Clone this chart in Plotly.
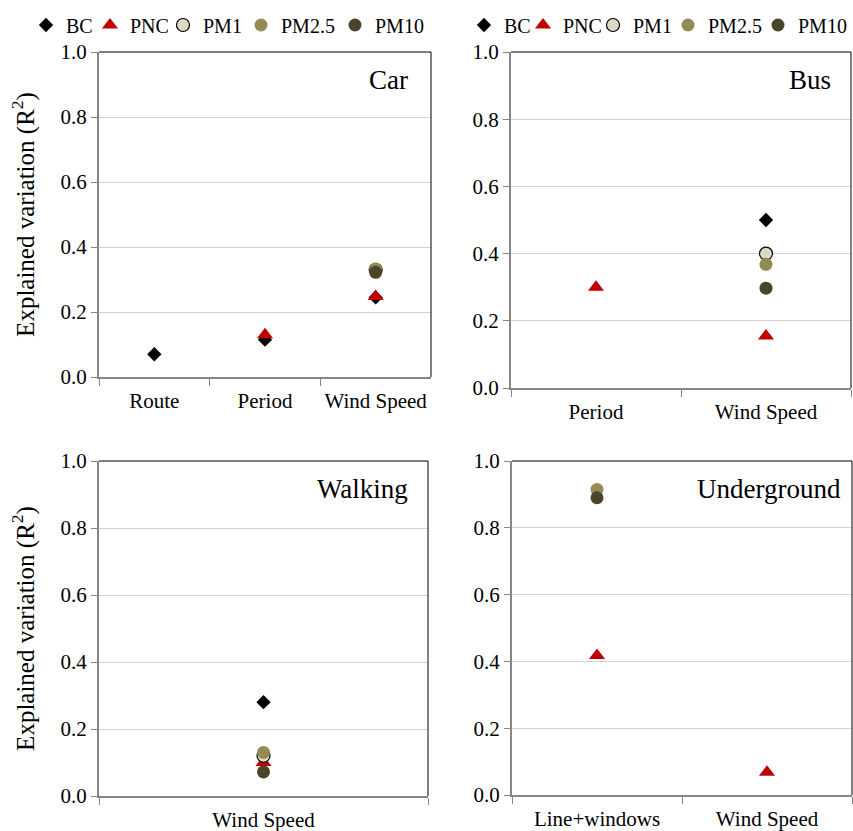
import plotly.graph_objects as go

# ---------------- data ----------------
pollutants = ["BC", "PNC", "PM1", "PM2.5", "PM10"]

car_categories = ["Route", "Period", "Wind Speed"]
car_x = {
    "BC": ["Route", "Period", "Wind Speed"],
    "PNC": ["Period", "Wind Speed"],
    "PM1": ["Wind Speed"],
    "PM2.5": ["Wind Speed"],
    "PM10": ["Wind Speed"],
}
car_y = {
    "BC": [0.07, 0.115, 0.245],
    "PNC": [0.13, 0.248],
    "PM1": [0.33],
    "PM2.5": [0.332],
    "PM10": [0.322],
}

bus_categories = ["Period", "Wind Speed"]
bus_x = {
    "BC": ["Wind Speed"],
    "PNC": ["Period", "Wind Speed"],
    "PM1": ["Wind Speed"],
    "PM2.5": ["Wind Speed"],
    "PM10": ["Wind Speed"],
}
bus_y = {
    "BC": [0.50],
    "PNC": [0.30, 0.155],
    "PM1": [0.40],
    "PM2.5": [0.368],
    "PM10": [0.297],
}

walk_categories = ["Wind Speed"]
walk_x = {
    "BC": ["Wind Speed"],
    "PNC": ["Wind Speed"],
    "PM1": ["Wind Speed"],
    "PM2.5": ["Wind Speed"],
    "PM10": ["Wind Speed"],
}
walk_y = {
    "BC": [0.28],
    "PNC": [0.10],
    "PM1": [0.12],
    "PM2.5": [0.13],
    "PM10": [0.072],
}

under_categories = ["Line+windows", "Wind Speed"]
under_x = {
    "BC": [],
    "PNC": ["Line+windows", "Wind Speed"],
    "PM1": [],
    "PM2.5": ["Line+windows"],
    "PM10": ["Line+windows"],
}
under_y = {
    "BC": [],
    "PNC": [0.418, 0.068],
    "PM1": [],
    "PM2.5": [0.915],
    "PM10": [0.89],
}

panel_titles = ["Car", "Bus", "Walking", "Underground"]
y_ticks = [0.0, 0.2, 0.4, 0.6, 0.8, 1.0]

# ---------------- styles ----------------
FONT = "Liberation Serif"
styles = {
    "BC": dict(symbol="diamond", size=11, color="#000000", line=dict(width=0)),
    "PNC": dict(symbol="triangle-up", size=14, color="#C00000", line=dict(width=0)),
    "PM1": dict(symbol="circle", size=13, color="#DDD9C3", line=dict(width=1.2, color="#000000")),
    "PM2.5": dict(symbol="circle", size=13, color="#948A54", line=dict(width=0)),
    "PM10": dict(symbol="circle", size=13, color="#4A452A", line=dict(width=0)),
}

W, H = 853, 831
# plot areas in pixels: (left, right, top, bottom)
areas = [
    (99, 431, 52, 377),
    (511, 851, 52, 388),
    (99, 428, 461, 796),
    (512, 852, 461, 795),
]
panels = [
    (car_categories, car_x, car_y),
    (bus_categories, bus_x, bus_y),
    (walk_categories, walk_x, walk_y),
    (under_categories, under_x, under_y),
]
label_pos = [(0.937, 0.914), (0.947, 0.917), (0.945, 0.916), (0.973, 0.916)]
# x pixel where each legend entry's text starts (top-left, top-right panels)
legend_text_x = [[67, 131, 204, 282, 376], [505, 564, 634, 709, 799]]

fig = go.Figure()
layout = dict(
    width=W, height=H,
    margin=dict(l=0, r=0, t=0, b=0, autoexpand=False),
    paper_bgcolor="white", plot_bgcolor="white",
    template="none",
    font=dict(family=FONT, size=21, color="#000000"),
    shapes=[], annotations=[],
)

legend_count = 0
for i, (area, (cats, xs, ys)) in enumerate(zip(areas, panels)):
    n = i + 1
    xa = "x" if n == 1 else f"x{n}"
    ya = "y" if n == 1 else f"y{n}"
    l, r, t, b = area
    for k, p in enumerate(pollutants):
        st = styles[p]
        show = i < 2
        kwargs = {}
        if show:
            legend_count += 1
            lname = "legend" if legend_count == 1 else f"legend{legend_count}"
            kwargs["legend"] = lname
            layout[lname] = dict(
                x=(legend_text_x[i][k] - 41) / W, y=1 - 25 / H,
                xanchor="left", yanchor="middle", orientation="h",
                font=dict(family=FONT, size=20, color="#000000"),
                bgcolor="rgba(0,0,0,0)", borderwidth=0, itemwidth=30,
                itemclick=False, itemdoubleclick=False,
            )
        fig.add_trace(go.Scatter(
            x=xs[p], y=ys[p], mode="markers", name=p,
            xaxis=xa, yaxis=ya,
            marker=dict(symbol=st["symbol"], size=st["size"], color=st["color"], line=st["line"]),
            showlegend=show, hoverinfo="skip", **kwargs,
        ))
    xkey = "xaxis" if n == 1 else f"xaxis{n}"
    ykey = "yaxis" if n == 1 else f"yaxis{n}"
    layout[xkey] = dict(
        domain=[l / W, r / W], anchor=ya,
        type="category", categoryorder="array", categoryarray=cats,
        range=[-0.5, len(cats) - 0.5],
        showline=True, linecolor="#868686", linewidth=2,
        ticks="outside", tickson="boundaries", ticklen=7, tickcolor="#868686", tickwidth=1,
        tickangle=0, ticklabelstandoff=4,
        showgrid=False, zeroline=False,
        tickfont=dict(family=FONT, size=21, color="#000000"),
        automargin=False, fixedrange=True,
    )
    layout[ykey] = dict(
        domain=[1 - b / H, 1 - t / H], anchor=xa,
        range=[0, 1], tickvals=y_ticks, tickformat=".1f",
        showline=True, linecolor="#868686", linewidth=2,
        ticks="outside", ticklen=6, tickcolor="#868686", tickwidth=1,
        showgrid=True, gridcolor="#D3D3D3", gridwidth=1.2,
        zeroline=False,
        tickfont=dict(family=FONT, size=21, color="#000000"),
        automargin=False, fixedrange=True,
    )
    if i in (0, 2):
        layout[ykey]["title"] = dict(text="Explained variation (R<sup>2</sup>)",
                                     font=dict(family=FONT, size=25, color="#000000"),
                                     standoff=19)
    # black frame on top and right of plot area
    layout["shapes"].append(dict(type="line", xref=f"{xa} domain", yref=f"{ya} domain",
                                 x0=0, x1=1, y0=1, y1=1, line=dict(color="#000000", width=1)))
    layout["shapes"].append(dict(type="line", xref=f"{xa} domain", yref=f"{ya} domain",
                                 x0=1, x1=1, y0=0, y1=1, line=dict(color="#000000", width=1)))
    lx, ly = label_pos[i]
    layout["annotations"].append(dict(
        text=panel_titles[i], xref=f"{xa} domain", yref=f"{ya} domain",
        x=lx, y=ly, xanchor="right", yanchor="middle", showarrow=False,
        font=dict(family=FONT, size=27, color="#000000"),
    ))

fig.update_layout(**layout)
fig.write_html("out.html", config={"displayModeBar": False},
               post_script="document.body.style.margin='0';")
